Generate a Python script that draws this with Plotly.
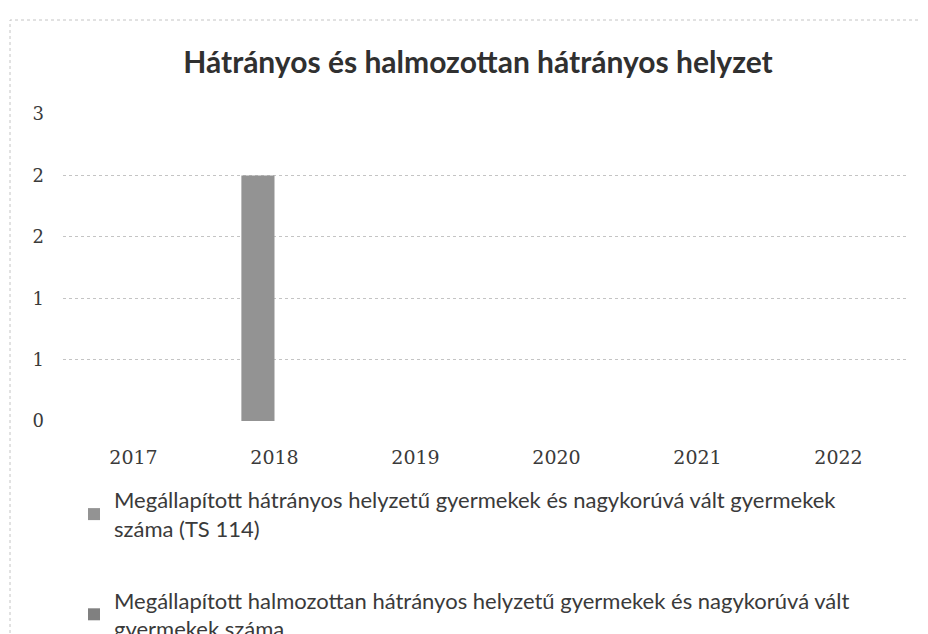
import plotly.graph_objects as go

years = ["2017", "2018", "2019", "2020", "2021", "2022"]
series1_name = "Megállapított hátrányos helyzetű gyermekek és nagykorúvá vált gyermekek<br>száma (TS 114)"
series2_name = "Megállapított halmozottan hátrányos helyzetű gyermekek és nagykorúvá vált<br>gyermekek száma"
series1 = [0, 2, 0, 0, 0, 0]
series2 = [0, 0, 0, 0, 0, 0]
y_tickvals = [0, 0.5, 1, 1.5, 2, 2.5]
y_ticktext = ["0", "1", "1", "2", "2", "3"]

L, R, T, B = 55, 27, 106, 221
PW, PH = 928 - L - R, 634 - T - B

fig = go.Figure()
fig.add_trace(go.Bar(x=years, y=series1, name=series1_name, legendgroup="a",
                     marker=dict(color="#939393", line=dict(width=0))))
fig.add_trace(go.Bar(x=years, y=series2, name=series2_name, legendgroup="b",
                     marker=dict(color="#808080", line=dict(width=0))))

fig.update_layout(
    width=928, height=634,
    paper_bgcolor="white", plot_bgcolor="white",
    margin=dict(l=L, r=R, t=T, b=B, autoexpand=False),
    barmode="group", bargap=0.53, bargroupgap=0,
    title=dict(text="<b>Hátrányos és halmozottan hátrányos helyzet</b>",
               x=470 / 928, xanchor="center", y=1 - 54 / 634, yanchor="middle",
               font=dict(family="Lato, Open Sans, sans-serif", size=30, color="#303030")),
    xaxis=dict(showgrid=False, zeroline=False, showline=False, ticks="",
               ticklabelstandoff=23,
               tickfont=dict(family="DejaVu Serif, Liberation Serif, serif", size=19, color="#3a3a3a")),
    yaxis=dict(range=[0, 2.5], tickvals=y_tickvals, ticktext=y_ticktext,
               showgrid=True, gridcolor="#c4c4c4", griddash="dot", gridwidth=1,
               zeroline=False, showline=False, ticks="", ticklabelstandoff=18,
               tickfont=dict(family="DejaVu Serif, Liberation Serif, serif", size=18, color="#3a3a3a")),
    showlegend=True,
    legend=dict(orientation="v", xref="paper", yref="paper",
                x=(66 - L) / PW, y=-(471 - (634 - B)) / PH, xanchor="left", yanchor="top",
                tracegroupgap=40, itemwidth=30,
                font=dict(family="Lato, Open Sans, sans-serif", size=22, color="#3a3a3a"),
                bgcolor="rgba(0,0,0,0)"),
)

fig.add_shape(type="rect", xref="paper", yref="paper",
              x0=(2 - L) / PW, x1=(940 - L) / PW,
              y0=-(700 - (634 - B)) / PH, y1=1 + (T - 12) / PH,
              line=dict(color="#c4c4c4", width=1, dash="dot"), fillcolor="rgba(0,0,0,0)",
              layer="below")

fig.write_html("out.html")
